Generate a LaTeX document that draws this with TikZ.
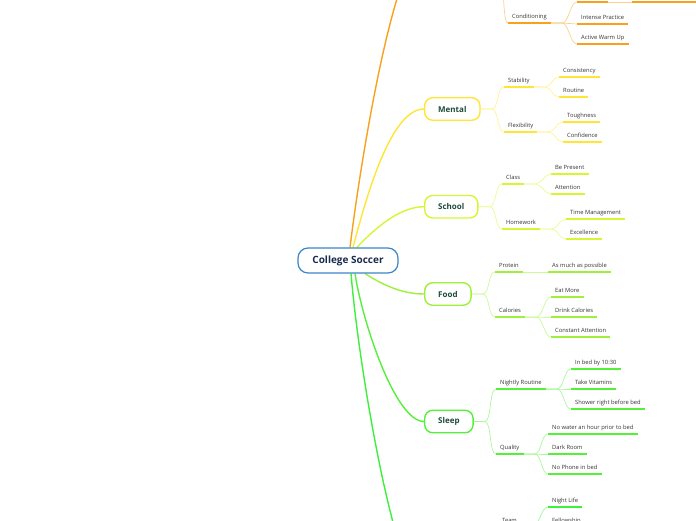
\documentclass[tikz,border=0pt]{standalone}
\usepackage{fontspec}
\setmainfont{Open Sans}
\usetikzlibrary{backgrounds}

\definecolor{rootblue}{HTML}{3A86C8}
\definecolor{roottext}{HTML}{1B2B4D}
\definecolor{topictext}{HTML}{1D4B3B}
\definecolor{subtext}{HTML}{333333}
\definecolor{cOrange}{HTML}{F7A11C}
\definecolor{cMental}{HTML}{FFE535}
\definecolor{cSchool}{HTML}{D4F734}
\definecolor{cFood}{HTML}{9EF03A}
\definecolor{cSleep}{HTML}{55F03A}
\definecolor{cSocial}{HTML}{3CF03C}

\tikzset{
  rootbox/.style={draw=rootblue, line width=1.2pt, fill=white, rounded corners=10pt,
    minimum width=100pt, minimum height=25pt, text=roottext,
    font=\fontsize{10}{12}\selectfont\bfseries},
  topic/.style={draw=#1, line width=1.4pt, fill=white, rounded corners=8pt, anchor=west,
    minimum height=22.5pt, inner xsep=13.5pt, text=topictext,
    font=\fontsize{8}{10}\selectfont\bfseries},
  sub/.style={anchor=south west, inner xsep=4pt, inner ysep=3pt, text height=4.4pt,
    text depth=1.5pt, text=subtext, font=\fontsize{5.8}{7}\selectfont},
  branch/.style={draw=#1, line width=1.4pt},
  link/.style={draw=#1!50, line width=0.7pt},
  uline/.style={draw=#1, line width=1.8pt},
  forkcurve/.style={out=0, in=180, distance=7pt}
}

\begin{document}
\begin{tikzpicture}[x=1pt, y=-1pt]

        % Define parameters
        \def\stub{11}   % straight run before a fork

        \useasboundingbox (0,0) rectangle (696,520);
        \clip (0,0) rectangle (696,520);

        % Central topic
        \node[rootbox] (soccer) at (348,260.5) {College Soccer};

        % Fitness branch (cut off at the top)
        \coordinate (fitness) at (424,-50);
        \coordinate (fitnessE) at (487,-50);
        \node[sub] (cond) at (508,23) {Conditioning};
        \node[sub] (intense) at (577,24) {Intense Practice};
        \node[sub] (warmup) at (577,44) {Active Warm Up};
        \coordinate (condA) at (577,2);
        \coordinate (condB) at (608,2);
        \coordinate (condC) at (632,2);
        \coordinate (condD) at (700,2);

        % Mental
        \node[topic=cMental] (mental) at (424,109) {Mental};
        \node[sub] (stab) at (504,87) {Stability};
        \node[sub] (flex) at (504,132) {Flexibility};
        \node[sub] (cons) at (559,77) {Consistency};
        \node[sub] (rout) at (559,97) {Routine};
        \node[sub] (tough) at (563,122) {Toughness};
        \node[sub] (conf) at (563,142) {Confidence};

        % School
        \node[topic=cSchool] (school) at (424,206.7) {School};
        \node[sub] (class) at (502,184) {Class};
        \node[sub] (homework) at (502,229) {Homework};
        \node[sub] (present) at (551,174) {Be Present};
        \node[sub] (attn) at (551,194) {Attention};
        \node[sub] (timemgmt) at (566,219) {Time Management};
        \node[sub] (excel) at (566,239) {Excellence};

        % Food
        \node[topic=cFood] (food) at (424,294) {Food};
        \node[sub] (protein) at (495,272) {Protein};
        \node[sub] (calories) at (495,317) {Calories};
        \node[sub] (asmuch) at (548,272) {As much as possible};
        \node[sub] (eatmore) at (551,297) {Eat More};
        \node[sub] (drink) at (551,317) {Drink Calories};
        \node[sub] (constant) at (551,337) {Constant Attention};

        % Sleep
        \node[topic=cSleep] (sleep) at (424,421.5) {Sleep};
        \node[sub] (nightly) at (496,389) {Nightly Routine};
        \node[sub] (quality) at (496,454) {Quality};
        \node[sub] (inbed) at (571,369) {In bed by 10:30};
        \node[sub] (vitamins) at (571,389) {Take Vitamins};
        \node[sub] (shower) at (571,409) {Shower right before bed};
        \node[sub] (nowater) at (548,434) {No water an hour prior to bed};
        \node[sub] (darkroom) at (548,454) {Dark Room};
        \node[sub] (nophone) at (548,474) {No Phone in bed};

        % Social branch (cut off at the bottom)
        \coordinate (social) at (424,590);
        \coordinate (socialE) at (480,590);
        \node[sub] (team) at (498,527) {Team};
        \node[sub] (nightlife) at (548,507) {Night Life};
        \node[sub] (fellow) at (548,527) {Fellowship};

        \begin{pgfonlayer}{background}
            % Main branches from the centre
            \draw[branch=cOrange] ([xshift=2pt]soccer.north) .. controls (362,150) and (396,-50) .. (fitness);
            \draw[branch=cMental] ([xshift=5pt]soccer.north) .. controls (368,190) and (392,109) .. (mental.west);
            \draw[branch=cSchool] ([xshift=9pt]soccer.north) .. controls (375,228) and (400,206.7) .. (school.west);
            \draw[branch=cFood] ([xshift=17pt]soccer.south) .. controls (380,283) and (400,294) .. (food.west);
            \draw[branch=cSleep] ([xshift=7pt]soccer.south) .. controls (362,320) and (395,421.5) .. (sleep.west);
            \draw[branch=cSocial] ([xshift=3pt]soccer.south) .. controls (360,380) and (398,590) .. (social);

            % Topic to subtopic forks
            \draw[link=cOrange] (fitnessE) -- ++(\stub,0) to[forkcurve] (cond.south west);
            \foreach \p/\col/\kids in {mental/cMental/{stab,flex}, school/cSchool/{class,homework},
                                       food/cFood/{protein,calories}, sleep/cSleep/{nightly,quality}} {
                \foreach \k in \kids
                    \draw[link=\col] (\p.east) -- ++(\stub,0) to[forkcurve] (\k.south west);
            }
            \draw[link=cSocial] (socialE) -- ++(\stub,0) to[forkcurve] (team.south west);

            % Subtopic to detail forks
            \draw[link=cOrange] (cond.south east) -- ++(\stub,0) to[forkcurve] (condA);
            \foreach \p/\col/\kids in {cond/cOrange/{intense,warmup}, stab/cMental/{cons,rout},
                                       flex/cMental/{tough,conf}, class/cSchool/{present,attn},
                                       homework/cSchool/{timemgmt,excel}, calories/cFood/{eatmore,drink,constant},
                                       nightly/cSleep/{inbed,vitamins,shower}, quality/cSleep/{nowater,darkroom,nophone},
                                       team/cSocial/{nightlife,fellow}} {
                \foreach \k in \kids
                    \draw[link=\col] (\p.south east) -- ++(\stub,0) to[forkcurve] (\k.south west);
            }
            \draw[link=cFood] (protein.south east) -- (asmuch.south west);
            \draw[link=cOrange] (condB) -- (condC);
        \end{pgfonlayer}

        % Underlines below every subtopic
        \foreach \n/\col in {cond/cOrange, intense/cOrange, warmup/cOrange,
                             stab/cMental, flex/cMental, cons/cMental, rout/cMental, tough/cMental, conf/cMental,
                             class/cSchool, homework/cSchool, present/cSchool, attn/cSchool, timemgmt/cSchool, excel/cSchool,
                             protein/cFood, calories/cFood, asmuch/cFood, eatmore/cFood, drink/cFood, constant/cFood,
                             nightly/cSleep, quality/cSleep, inbed/cSleep, vitamins/cSleep, shower/cSleep,
                             nowater/cSleep, darkroom/cSleep, nophone/cSleep,
                             team/cSocial, nightlife/cSocial, fellow/cSocial}
            \draw[uline=\col] (\n.south west) -- (\n.south east);
        \draw[uline=cOrange] (condA) -- (condB);
        \draw[uline=cOrange] (condC) -- (condD);

    \end{tikzpicture}
\end{document}
